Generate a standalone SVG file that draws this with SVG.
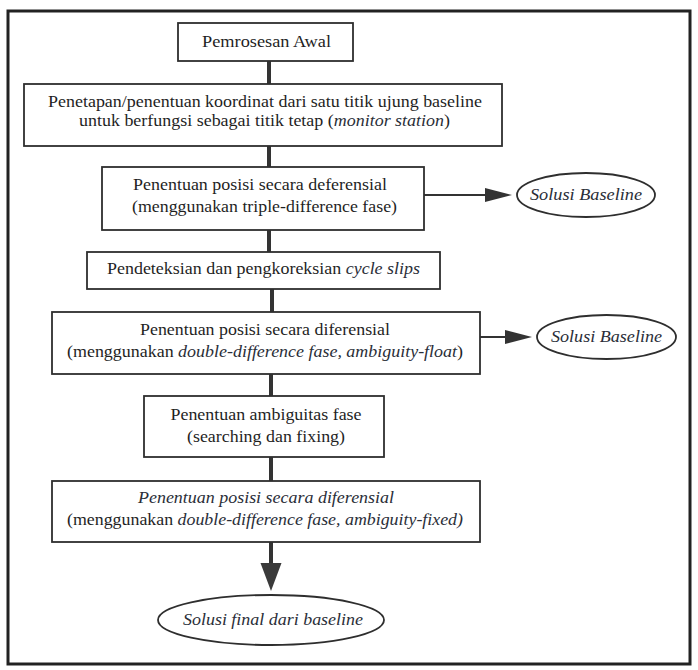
<svg xmlns="http://www.w3.org/2000/svg" width="698" height="670" viewBox="0 0 698 670">
  <style>
    .box { fill: #ffffff; stroke: #2e2e2e; stroke-width: 1.8; }
    .oval { fill: #ffffff; stroke: #2e2e2e; stroke-width: 1.8; }
    .t { font-family: "Liberation Serif", "Times New Roman", serif; font-size: 16.5px; fill: #1f1f1f; text-anchor: middle; }
    .it { font-style: italic; fill: #2a2e38; }
    .vline { stroke: #333333; stroke-width: 4; fill: none; }
    .hline { stroke: #333333; stroke-width: 2; fill: none; }
  </style>
  <defs>
    <marker id="headSide" markerUnits="userSpaceOnUse" markerWidth="28" markerHeight="16" refX="0" refY="7" orient="auto">
      <path d="M0,0 L27,7 L0,14 Z" fill="#333333"/>
    </marker>
    <marker id="headDown" markerUnits="userSpaceOnUse" markerWidth="30" markerHeight="23" refX="0" refY="10.5" orient="auto">
      <path d="M0,0 L28,10.5 L0,21 Z" fill="#3a3a3a"/>
    </marker>
  </defs>

  <rect x="0" y="0" width="698" height="670" fill="#ffffff"/>

  <!-- outer frame -->
  <rect id="frame" x="8" y="11" width="682" height="653" fill="none" stroke="#222222" stroke-width="3"/>

  <!-- connectors -->
  <g id="connectors">
    <line class="vline" x1="269" y1="61" x2="269" y2="84"/>
    <line class="vline" x1="269" y1="146" x2="269" y2="167"/>
    <line class="vline" x1="269" y1="230" x2="269" y2="252"/>
    <line class="vline" x1="272" y1="289" x2="272" y2="312"/>
    <line class="vline" x1="271" y1="374" x2="271" y2="396"/>
    <line class="vline" x1="271" y1="457" x2="271" y2="481"/>
    <line class="vline" x1="271" y1="542" x2="271" y2="563" marker-end="url(#headDown)"/>
    <line class="hline" x1="424" y1="195" x2="485" y2="195" marker-end="url(#headSide)"/>
    <line class="hline" x1="480" y1="337" x2="505" y2="337" marker-end="url(#headSide)"/>
  </g>

  <!-- processing steps -->
  <g id="n1">
    <rect class="box" x="178" y="23" width="175" height="38"/>
    <text class="t" x="266.5" y="47" textLength="129" lengthAdjust="spacingAndGlyphs">Pemrosesan Awal</text>
  </g>

  <g id="n2">
    <rect class="box" x="24" y="84" width="478" height="62"/>
    <text class="t" x="265" y="107" textLength="434" lengthAdjust="spacingAndGlyphs">Penetapan/penentuan koordinat dari satu titik ujung baseline</text>
    <text class="t" x="264.5" y="126" textLength="371" lengthAdjust="spacingAndGlyphs">untuk berfungsi sebagai titik tetap (<tspan class="it">monitor station</tspan>)</text>
  </g>

  <g id="n3">
    <rect class="box" x="102" y="167" width="322" height="63"/>
    <text class="t" x="260" y="190" textLength="254" lengthAdjust="spacingAndGlyphs">Penentuan posisi secara deferensial</text>
    <text class="t" x="264.5" y="212" textLength="265" lengthAdjust="spacingAndGlyphs">(menggunakan triple-difference fase)</text>
  </g>

  <g id="n4">
    <rect class="box" x="87" y="252" width="353" height="37"/>
    <text class="t" x="263.5" y="274" textLength="313" lengthAdjust="spacingAndGlyphs">Pendeteksian dan pengkoreksian <tspan class="it">cycle slips</tspan></text>
  </g>

  <g id="n5">
    <rect class="box" x="52" y="312" width="428" height="62"/>
    <text class="t" x="265" y="335" textLength="250" lengthAdjust="spacingAndGlyphs">Penentuan posisi secara diferensial</text>
    <text class="t" x="265" y="357" textLength="396" lengthAdjust="spacingAndGlyphs">(menggunakan <tspan class="it">double-difference fase, ambiguity-float</tspan>)</text>
  </g>

  <g id="n6">
    <rect class="box" x="144" y="396" width="240" height="61"/>
    <text class="t" x="266" y="420" textLength="191" lengthAdjust="spacingAndGlyphs">Penentuan ambiguitas fase</text>
    <text class="t" x="266" y="442" textLength="158" lengthAdjust="spacingAndGlyphs">(searching dan fixing)</text>
  </g>

  <g id="n7">
    <rect class="box" x="52" y="481" width="428" height="61"/>
    <text class="t it" x="266" y="503" textLength="256" lengthAdjust="spacingAndGlyphs">Penentuan posisi secara diferensial</text>
    <text class="t" x="265" y="525" textLength="396" lengthAdjust="spacingAndGlyphs">(menggunakan <tspan class="it">double-difference fase, ambiguity-fixed)</tspan></text>
  </g>

  <!-- results -->
  <g id="r1">
    <ellipse class="oval" cx="586" cy="195" rx="69" ry="22"/>
    <text class="t it" x="586" y="200" textLength="112" lengthAdjust="spacingAndGlyphs">Solusi Baseline</text>
  </g>

  <g id="r2">
    <ellipse class="oval" cx="606.5" cy="337" rx="69.5" ry="22"/>
    <text class="t it" x="606.5" y="342" textLength="111" lengthAdjust="spacingAndGlyphs">Solusi Baseline</text>
  </g>

  <g id="r3">
    <ellipse class="oval" cx="271" cy="620" rx="113" ry="25"/>
    <text class="t it" x="273" y="625" textLength="180" lengthAdjust="spacingAndGlyphs">Solusi final dari baseline</text>
  </g>
</svg>
